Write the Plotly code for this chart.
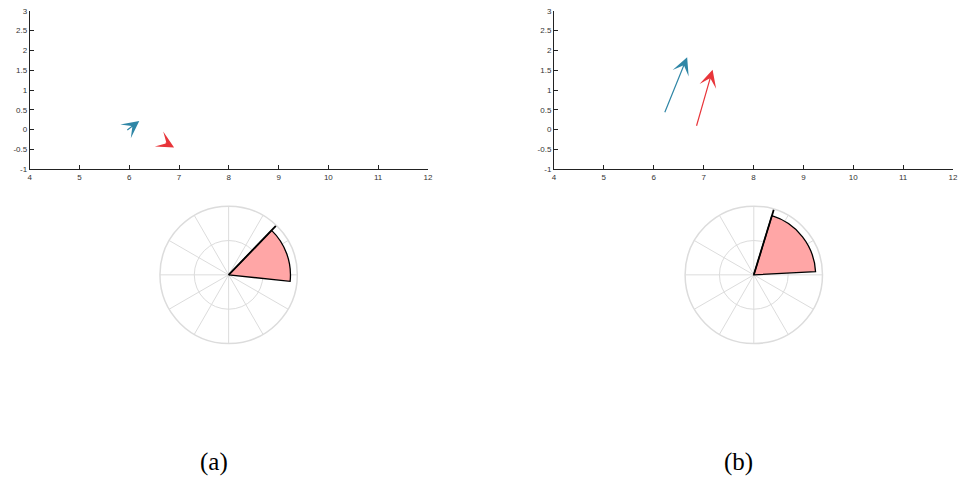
import plotly.graph_objects as go

# ---- data ----
# panel (a) arrows: tail -> tip
a_blue_tail = [5.93, -0.04]
a_blue_tip = [6.20, 0.22]
a_red_tail = [6.70, -0.31]
a_red_tip = [6.90, -0.45]
# panel (b) arrows
b_blue_tail = [6.21, 0.40]
b_blue_tip = [6.67, 1.83]
b_red_tail = [6.85, 0.06]
b_red_tip = [7.18, 1.51]

# polar wedges (degrees) : start angle, end angle, radius
a_wedge = [-6, 46, 0.9]
b_wedge = [3, 73, 0.9]

x_ticks = [4, 5, 6, 7, 8, 9, 10, 11, 12]
x_ticktext = ["4", "5", "6", "7", "8", "9", "10", "11", "12"]
y_ticks = [-1, -0.5, 0, 0.5, 1, 1.5, 2, 2.5, 3]
y_ticktext = ["-1", "-0.5", "0", "0.5", "1", "1.5", "2", "2.5", "3"]
captions = ["(a)", "(b)"]

BLUE = "#2F86A6"
RED = "#E8353A"
PINK = "#FFA6A6"
GRID = "#DCDCDC"

W, H = 963, 483

fig = go.Figure()

# invisible traces to establish the cartesian axes
fig.add_trace(go.Scatter(x=[4, 12], y=[-1, 3], mode="markers",
                         marker=dict(opacity=0), xaxis="x", yaxis="y",
                         showlegend=False, hoverinfo="skip"))
fig.add_trace(go.Scatter(x=[4, 12], y=[-1, 3], mode="markers",
                         marker=dict(opacity=0), xaxis="x2", yaxis="y2",
                         showlegend=False, hoverinfo="skip"))


def wedge(fig, w, subplot):
    start, end, r = w
    fig.add_trace(go.Barpolar(r=[r], theta=[(start + end) / 2], width=[end - start],
                              marker=dict(color=PINK, line=dict(color="black", width=1.3)),
                              subplot=subplot, showlegend=False, hoverinfo="skip"))
    fig.add_trace(go.Scatterpolar(r=[0, 1], theta=[end, end], mode="lines",
                                  line=dict(color="black", width=1.8),
                                  subplot=subplot, showlegend=False, hoverinfo="skip"))


wedge(fig, a_wedge, "polar")
wedge(fig, b_wedge, "polar2")

annotations = []


def arrow(tail, tip, color, xr, yr):
    annotations.append(dict(x=tip[0], y=tip[1], ax=tail[0], ay=tail[1],
                            xref=xr, yref=yr, axref=xr, ayref=yr,
                            text="", showarrow=True, arrowhead=3,
                            arrowsize=2.4, arrowwidth=1.2, arrowcolor=color))


arrow(a_blue_tail, a_blue_tip, BLUE, "x", "y")
arrow(a_red_tail, a_red_tip, RED, "x", "y")
arrow(b_blue_tail, b_blue_tip, BLUE, "x2", "y2")
arrow(b_red_tail, b_red_tip, RED, "x2", "y2")

for txt, cx in zip(captions, [214, 742]):
    annotations.append(dict(text=txt, x=cx / W, y=1 - 467 / H, xref="paper", yref="paper",
                            showarrow=False, xanchor="center", yanchor="middle",
                            font=dict(family="Liberation Serif", size=25, color="black")))

ydom = [1 - 168.3 / H, 1 - 7 / H]
axis_common = dict(showline=True, linecolor="#222", linewidth=1, ticks="inside",
                   ticklen=4, tickcolor="#222", showgrid=False, zeroline=False,
                   tickfont=dict(size=8, color="#333", family="Liberation Sans"))

layout = dict(
    width=W, height=H, margin=dict(l=0, r=0, t=0, b=0),
    paper_bgcolor="white", plot_bgcolor="white", showlegend=False,
    xaxis=dict(domain=[28 / W, 429 / W], range=[4, 12], tickvals=x_ticks,
               ticktext=x_ticktext, anchor="y", **axis_common),
    yaxis=dict(domain=ydom, range=[-1, 3], tickvals=y_ticks, ticktext=y_ticktext,
               anchor="x", **axis_common),
    xaxis2=dict(domain=[556 / W, 958 / W], range=[4, 12], tickvals=x_ticks,
                ticktext=x_ticktext, anchor="y2", **axis_common),
    yaxis2=dict(domain=ydom, range=[-1, 3], tickvals=y_ticks, ticktext=y_ticktext,
                anchor="x2", **axis_common),
    annotations=annotations,
)

R = 70
CY = 276


def polar_layout(cx):
    return dict(
        domain=dict(x=[(cx - R) / W, (cx + R) / W], y=[1 - (CY + R) / H, 1 - (CY - R) / H]),
        bgcolor="white",
        angularaxis=dict(direction="counterclockwise", rotation=0, dtick=30,
                         showticklabels=False, ticks="", showgrid=True, gridcolor=GRID,
                         gridwidth=1.3, showline=True, linecolor=GRID, linewidth=1.5),
        radialaxis=dict(range=[0, 1], tickvals=[0.5, 1], showticklabels=False, ticks="",
                        showline=False, showgrid=True, gridcolor=GRID, gridwidth=1.3),
    )


layout["polar"] = polar_layout(228.3)
layout["polar2"] = polar_layout(757.3)

fig.update_layout(**layout)
fig.write_html("out.html", config={"displayModeBar": False},
               post_script="document.body.style.margin='0';document.body.style.overflow='hidden';")
